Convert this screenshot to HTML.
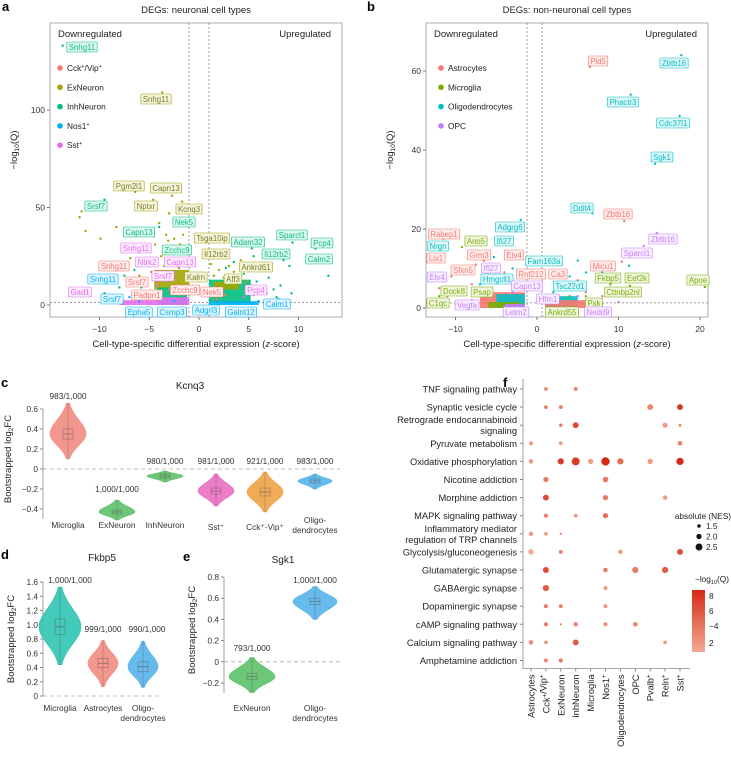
<!DOCTYPE html>
<html><head><meta charset="utf-8"><style>
body{margin:0;background:#fff;}
svg{display:block;font-family:"Liberation Sans",sans-serif;}
</style></head><body>
<svg id="fig" width="731" height="770" viewBox="0 0 731 770" xmlns="http://www.w3.org/2000/svg">
<g id="ga"></g>
<g id="gb"></g>
<g id="gc"></g>
<g id="gd"></g>
<g id="ge"></g>
<g id="gf"></g>
</svg>
<script>
const NS="http://www.w3.org/2000/svg";
function mk(p,tag,at,txt){const e=document.createElementNS(NS,tag);for(const k in at)e.setAttribute(k,at[k]);if(txt!==undefined)e.textContent=txt;p.appendChild(e);return e;}

// ---------- Panel A data ----------
const aTypes=["Cck","Ex","Inh","Nos1","Sst"];
const aColors={Cck:"#f8766d",Ex:"#a3a500",Inh:"#00bf7d",Nos1:"#00b0f6",Sst:"#e76bf3"};
const aPtsEx="-12,45;-11.8,48;-11.4,38;-9.9,34;-8.3,40;-6.4,58;-4.6,54;-3.7,109;-2.7,56;-1.7,53;-3,47;-2.2,49;-4,42;-3.3,36;-3.1,33;-2.5,34;-1.9,31;-2.3,27;-4.4,31;-5.5,28;-6.9,24;-7.8,21;-8.8,18;-5,22;-3.8,25;-2.9,28;-1.6,36;-1.4,22;-2,19;-3.5,20;-4.8,17;-6,15;1.5,15;2,18;2.5,14;3,20;3.5,17;4.2,23;4.8,12;3.8,10;2.2,11;1.2,21;1.8,25";
const aPtsInh="-13.7,133;-9.5,54;-5,50;-4,40;5.3,29;5.5,25;8.5,23;9.1,20;9.4,32;11.7,29;13,15;9.3,6;7.8,4;6.5,18;7,14;5.8,12;6.2,9;4.5,16;3.5,22;2.7,19;7.5,8;8.2,10;6.8,6;-6.5,18;-7.5,15;-5.8,9;-9.5,6;-8,9";
const aPtsSst="-3.5,14;-2.8,16;-4.2,10;-6,12;-5,7;4.5,4;5.5,5";
const aPtsCck="-3,8;-4,12;-6.8,10;1.8,3;2.6,5;-5.5,4";
const aPtsNos1="-8.5,3;-7,4;-6,2;4,1;6,2;8,3;-2.5,2";
const aDense=[["Ex",-4.5,-1,8,18],["Inh",-4.2,-1.2,0,9],["Sst",-4.5,-1,0,4],["Inh",1,5.2,1,13],["Ex",1.5,4,8,12],["Nos1",1,6,0,2],["Sst",-8,-4.5,0,2.5]];
const aLabels=[["Snhg11","Inh",82,47],["Snhg11","Ex",156,99],["Pgm2l1","Ex",129,186],["Capn13","Ex",166,188],["Nptxr","Ex",146,206],["Kcnq3","Ex",189,209],["Srsf7","Inh",96,206],["Nek5","Inh",184,222],["Capn13","Inh",139,232],["Tsga10ip","Ex",212,238],["Adam32","Inh",248,242],["Sparcl1","Inh",292,235],["Pcp4","Inh",322,243],["Snhg11","Sst",136,248],["Zcchc9","Inh",177,250],["Il12rb2","Ex",216,254],["Il12rb2","Inh",276,254],["Calm2","Inh",319,259],["Ankrd61","Ex",256,267],["Snhg11","Cck",114,266],["Ntrk2","Sst",147,262],["Capn13","Sst",180,262],["Srsf7","Sst",163,276],["Kalrn","Ex",196,277],["Aff3","Ex",233,279],["Snhg11","Nos1",103,279],["Srsf7","Cck",137,282],["Pcp4","Sst",256,290],["Gad1","Sst",80,292],["Zcchc9","Cck",185,290],["Padpn1","Cck",147,295],["Nek5","Cck",212,292],["Srsf7","Nos1",112,299],["Calm1","Nos1",277,304],["Epha5","Nos1",139,312],["Csrnp3","Nos1",172,312],["Adgrl3","Nos1",206,310],["Galnt12","Nos1",241,312]];

// ---------- Panel B data ----------
const bColors={Ast:"#f8766d",Mic:"#7cae00",Oli:"#00bfc4",OPC:"#c77cff"};
const bPtsAst="6.5,61;10.7,22;10.4,11.7;-11.5,17.5;-6.5,12;-7.5,11;-9,9;-10.5,8;-8,6;-5,7;-3,6;-4,9;-12,5;-11,3;-9.5,4;5,7;6,4;4,6;8,3;-6,4";
const bPtsMic="20.6,5.3;11.4,5.6;-9.2,15.4;-12,3;-13,2;-10,1;8,1;7,2;6,3;9,6;4,3";
const bPtsOli="17.7,64;11.5,54;17.5,48.6;14.5,36.5;6.8,24;-2,22.3;-5.3,12.9;11.3,10.7;7,11;6,9;5,12;4,8;8,9;3,6;2,4;-3,10;-4,8;-2,6;-6,9;-7,6";
const bPtsOPC="14.7,19;13.1,15.7;-6,11;-3,4;5,3;7,2;10,1.5;-8,2";
const bDense=[["Ast",-7,-1.5,0,4],["Oli",-5,-1.5,0,3.5],["Mic",-6,-2,0,1.5],["Oli",1,5,0,3],["Ast",1,6,0,2],["OPC",-4,-1.5,0,1]];
const bLabels=[["Pld5","Ast",598,61],["Zbtb16","Oli",674,63],["Phactr3","Oli",623,102],["Cdc37l1","Oli",673,123],["Sgk1","Oli",662,157],["Ddit4","Oli",582,208],["Zbtb16","Ast",618,214],["Adgrg6","Oli",510,227],["Rabep1","Ast",444,234],["Ano5","Mic",476,241],["Ifi27","Oli",504,241],["Nrgn","Oli",438,246],["Zbtb16","OPC",663,239],["Sparcl1","OPC",637,253],["Grm3","Ast",479,255],["Etv4","Ast",514,255],["Lix1","Ast",436,258],["Fam163a","Oli",544,261],["Micu1","Ast",603,266],["Sfxn5","Ast",463,270],["Ifi27","OPC",491,268],["Etv4","OPC",437,277],["Hmgcll1","Oli",497,279],["Rnf212","Ast",531,274],["Ca3","Ast",558,274],["Fkbp5","Mic",608,278],["Eef2k","Mic",637,278],["Apoe","Mic",698,280],["Capn13","OPC",527,286],["Tsc22d1","Oli",570,286],["Dock8","Mic",454,291],["Psap","Mic",482,292],["Cttnbp2nl","Mic",623,292],["Hfm1","OPC",548,299],["C1qc","Mic",438,303],["Vegfa","OPC",467,305],["Pxk","Mic",594,303],["Letm2","OPC",516,312],["Ankrd55","Mic",562,312],["Nedd9","OPC",598,312]];

// ---------- Violin data ----------
const cCats=["Microglia","ExNeuron","InhNeuron","Sst⁺","Cck⁺-Vip⁺","Oligo-|dendrocytes"];
const cMed=[0.35,-0.43,-0.07,-0.22,-0.23,-0.12];
const cQ1=[0.30,-0.45,-0.09,-0.25,-0.27,-0.14];
const cQ3=[0.40,-0.41,-0.05,-0.19,-0.19,-0.10];
const cMin=[0.10,-0.51,-0.13,-0.37,-0.43,-0.20];
const cMax=[0.66,-0.31,-0.02,-0.05,-0.03,-0.05];
const cCount=["983/1,000","1,000/1,000","980/1,000","981/1,000","921/1,000","983/1,000"];
const cCol=["#f28b82","#5cc16a","#5cc16a","#ea6fc0","#efa245","#55b2ea"];
const dCats=["Microglia","Astrocytes","Oligo-|dendrocytes"];
const dMed=[0.97,0.46,0.41];const dQ1=[0.86,0.40,0.34];const dQ3=[1.08,0.53,0.48];
const dMin=[0.44,0.13,0.12];const dMax=[1.53,0.78,0.77];
const dCount=["1,000/1,000","999/1,000","990/1,000"];
const dCol=["#2fc4b2","#f28b82","#55b2ea"];
const eCats=["ExNeuron","Oligo-|dendrocytes"];
const eMed=[-0.14,0.57];const eQ1=[-0.17,0.54];const eQ3=[-0.11,0.60];
const eMin=[-0.29,0.40];const eMax=[0.04,0.71];
const eCount=["793/1,000","1,000/1,000"];
const eCol=["#5cc16a","#55b2ea"];

// ---------- Panel F data ----------
const fPaths=["TNF signaling pathway","Synaptic vesicle cycle","Retrograde endocannabinoid|signaling","Pyruvate metabolism","Oxidative phosphorylation","Nicotine addiction","Morphine addiction","MAPK signaling pathway","Inflammatory mediator|regulation of TRP channels","Glycolysis/gluconeogenesis","Glutamatergic synapse","GABAergic synapse","Dopaminergic synapse","cAMP signaling pathway","Calcium signaling pathway","Amphetamine addiction"];
const fCells=["Astrocytes","Cck⁺/Vip⁺","ExNeuron","InhNeuron","Microglia","Nos1⁺","Oligodendrocytes","OPC","Pvalb⁺","Reln⁺","Sst⁺"];
const fRow=[0,0,1,1,1,1,2,2,2,2,3,3,3,4,4,4,4,4,4,4,4,5,5,6,6,6,7,7,7,8,8,8,9,9,9,9,10,10,10,10,11,11,12,12,12,13,13,13,13,13,14,14,14,14,15,15];
const fCol=[1,3,1,2,8,10,2,3,9,10,0,2,10,0,2,3,4,5,6,8,10,1,5,1,5,9,1,3,5,0,1,2,0,2,6,10,1,5,7,9,1,5,1,2,5,1,2,3,5,7,0,1,3,9,1,2];
const fNES=[1.6,1.7,1.6,1.6,2.2,2.2,1.5,2.2,2.0,1.4,1.7,1.6,1.9,1.8,2.3,2.8,2.0,2.9,2.3,2.0,2.6,2.0,2.1,2.2,2.0,1.8,1.7,1.6,2.0,1.8,1.6,1.2,2.1,1.7,1.8,2.2,2.2,1.8,2.3,2.3,2.3,1.7,1.7,1.6,1.7,1.7,1.1,1.8,1.7,1.9,1.8,1.5,2.2,1.6,1.7,1.7];
const fQ=[3,3,4,4,3,8,4,7,2,3,2,2,3,2,8,8,2,9,5,2,9,4,4,7,4,2,4,2,5,2,2,3,1,3,2,7,7,4,4,6,6,2,4,4,2,4,4,3,3,3,3,3,6,2,3,4];

function panelLetter(g,t,x,y){const e=mk(g,"text",{x:x,y:y,"font-size":13,"font-weight":"bold"},t);}
function parsePts(s){return s.split(";").map(p=>p.split(",").map(Number));}

function volcano(g,cfg){
 const {x0,x1,y0,y1,zx,zy,zscale,qscale,colors,pts,dense,labels,legend,title,xticks,yticks,dl,dr,legX}=cfg;
 const X=z=>zx+z*zscale, Y=q=>zy-q*qscale;
 const t=mk(g,"text",{x:(x0+x1)/2,y:13,"font-size":9.5,"text-anchor":"middle",fill:"#222"},title);
 
 const fr=mk(g,"rect",{x:x0,y:y0,width:x1-x0,height:y1-y0,fill:"none",stroke:"#999","stroke-width":0.8});
 
 [dl,dr].forEach(v=>{const l=mk(g,"line",{x1:v,x2:v,y1:y0,y2:y1,stroke:"#777","stroke-dasharray":"2,2","stroke-width":0.7});});
 const h=mk(g,"line",{x1:x0,x2:x1,y1:Y(1.3),y2:Y(1.3),stroke:"#777","stroke-dasharray":"2,2","stroke-width":0.7});
 const dn=mk(g,"text",{x:x0+8,y:37,"font-size":9.5,fill:"#222"},"Downregulated");
 const up=mk(g,"text",{x:x1-11,y:37,"font-size":9.5,fill:"#222","text-anchor":"end"},"Upregulated");
 xticks.forEach(v=>{const l=mk(g,"line",{x1:X(v),x2:X(v),y1:y1,y2:y1+3,stroke:"#777"});
  const tt=mk(g,"text",{x:X(v),y:y1+15,"font-size":8.5,"text-anchor":"middle",fill:"#333"},v<0?"−"+(-v):String(v));});
 yticks.forEach(v=>{const l=mk(g,"line",{x1:x0-3,x2:x0,y1:Y(v),y2:Y(v),stroke:"#777"});
  const tt=mk(g,"text",{x:x0-5,y:Y(v)+3,"font-size":8.5,"text-anchor":"end",fill:"#333"},String(v));});
 const xl=mk(g,"text",{x:(x0+x1)/2,y:y1+30,"font-size":9.5,"text-anchor":"middle",fill:"#222"});
 xl.innerHTML='Cell-type-specific differential expression (<tspan font-style="italic">z</tspan>-score)';
 
 const yl=mk(g,"text",{transform:`translate(${x0-33},${(y0+y1)/2-20}) rotate(-90)`,"font-size":9.5,"text-anchor":"middle",fill:"#222"});
 yl.innerHTML='−log<tspan font-size="6.5" dy="2">10</tspan><tspan dy="-2">(Q)</tspan>';
 
 dense.forEach(d=>{const r=mk(g,"rect",{x:X(d[1]),y:Y(d[4]),width:X(d[2])-X(d[1]),height:Y(d[3])-Y(d[4]),fill:colors[d[0]],opacity:0.9});
  });
 for(const k in pts){parsePts(pts[k]).forEach(p=>{const c=mk(g,"circle",{cx:X(p[0]),cy:Y(p[1]),r:1.2,fill:colors[k]});
  });}
 labels.forEach(L=>{const col=colors[L[1]];const gg=mk(g,"g",{});
  
  const bg=mk(gg,"rect",{fill:"#fff"});
  const r=mk(gg,"rect",{fill:col,"fill-opacity":0.12,stroke:col,"stroke-width":0.6,rx:1});
  const tt=mk(gg,"text",{x:L[2],y:L[3]+2.8,"font-size":7.8,"text-anchor":"middle",fill:col},L[0]);
  const w=tt.getComputedTextLength()||L[0].length*4.3;
  [bg,r].forEach(b=>{b.setAttribute("x",L[2]-w/2-2);b.setAttribute("y",L[3]-5);b.setAttribute("width",w+4);b.setAttribute("height",10);});
  if(L[1]==="Ex"){tt.setAttribute("fill","#7d7d1c");}});
 legend.forEach((L,i)=>{const y=68+i*19.3;const c=mk(g,"circle",{cx:legX,cy:y,r:2.8,fill:colors[L[0]]});
  const tt=mk(g,"text",{x:legX+7,y:y+3,"font-size":8.3,fill:"#222"});tt.innerHTML=L[1];});
}

const ga=document.getElementById("ga");panelLetter(ga,"a",2,11);
volcano(ga,{x0:50,x1:342,y0:23,y1:317,zx:199,zy:305,zscale:9.95,qscale:1.95,colors:aColors,
 pts:{Ex:aPtsEx,Inh:aPtsInh,Sst:aPtsSst,Cck:aPtsCck,Nos1:aPtsNos1},dense:aDense,labels:aLabels,
 legend:[["Cck",'Cck<tspan font-size="5.5" dy="-3">+</tspan><tspan dy="3">/Vip</tspan><tspan font-size="5.5" dy="-3">+</tspan>'],["Ex","ExNeuron"],["Inh","InhNeuron"],["Nos1",'Nos1<tspan font-size="5.5" dy="-3">+</tspan>'],["Sst",'Sst<tspan font-size="5.5" dy="-3">+</tspan>']],
 title:"DEGs: neuronal cell types",xticks:[-10,-5,0,5,10],yticks:[0,50,100],dl:189,dr:209,legX:60});
const gb=document.getElementById("gb");panelLetter(gb,"b",367,11);
volcano(gb,{x0:426,x1:708,y0:23,y1:317,zx:537,zy:308,zscale:8.15,qscale:3.95,colors:bColors,
 pts:{Ast:bPtsAst,Mic:bPtsMic,Oli:bPtsOli,OPC:bPtsOPC},dense:bDense,labels:bLabels,
 legend:[["Ast","Astrocytes"],["Mic","Microglia"],["Oli","Oligodendrocytes"],["OPC","OPC"]],
 title:"DEGs: non-neuronal cell types",xticks:[-10,0,10,20],yticks:[0,20,40,60],dl:527,dr:542,legX:441});

function violins(g,cfg){
 const {ax,yTop,yBot,vTop,vBot,zeroEnd,xs,cats,med,q1,q3,mn,mx,cnt,cols,hw,ticks,title,tx,countY,catY,ytitleX,dashLeft}=cfg;
 const Y=v=>yBot-(v-vBot)/(vTop-vBot)*(yBot-yTop);
 const tt=mk(g,"text",{x:tx,y:cfg.titleY,"font-size":10,"text-anchor":"middle",fill:"#222"},title);
 const al=mk(g,"line",{x1:ax,x2:ax,y1:Y(ticks[ticks.length-1]),y2:Y(ticks[0])+cfg.axExt,stroke:"#888","stroke-width":0.8});
 const z=mk(g,"line",{x1:dashLeft,x2:zeroEnd,y1:Y(0),y2:Y(0),stroke:"#aaa","stroke-dasharray":"4,3","stroke-width":0.8});
 ticks.forEach(v=>{const l=mk(g,"line",{x1:ax-3,x2:ax,y1:Y(v),y2:Y(v),stroke:"#888"});
  const s=mk(g,"text",{x:ax-5,y:Y(v)+3,"font-size":8.3,"text-anchor":"end",fill:"#333"},v===0?"0":(v<0?"−":"")+Math.abs(v).toFixed(1));});
 const yl=mk(g,"text",{transform:`translate(${ytitleX},${(Y(ticks[0])+Y(ticks[ticks.length-1]))/2}) rotate(-90)`,"font-size":9.5,"text-anchor":"middle",fill:"#222"});
 yl.innerHTML='Bootstrapped log<tspan font-size="6.5" dy="2">2</tspan><tspan dy="-2">FC</tspan>';
 cats.forEach((c,i)=>{const x=xs[i];const n=40;let L=[],R=[];
  const sUp=(mx[i]-med[i])/2.2,sDn=(med[i]-mn[i])/2.2;
  for(let k=0;k<=n;k++){const v=mn[i]+(mx[i]-mn[i])*k/n;const s=v>med[i]?sUp:sDn;const w=hw[i]*Math.exp(-0.5*Math.pow((v-med[i])/s,2));
   L.push([x-w,Y(v)]);R.push([x+w,Y(v)]);}
  const d="M"+L.map(p=>p.join(",")).join("L")+"L"+R.reverse().map(p=>p.join(",")).join("L")+"Z";
  const vp=mk(g,"path",{d:d,fill:cols[i],stroke:cols[i],"stroke-width":0.6,"fill-opacity":0.9});
  const wl=mk(g,"line",{x1:x,x2:x,y1:Y(mx[i]),y2:Y(mn[i]),stroke:"#555","stroke-width":0.5,"stroke-opacity":0.6});
  const bw=Math.min(5,hw[i]*0.35);
  const b=mk(g,"rect",{x:x-bw,y:Y(q3[i]),width:2*bw,height:Y(q1[i])-Y(q3[i]),fill:"none",stroke:"#555","stroke-width":0.5,"stroke-opacity":0.7});
  const m=mk(g,"line",{x1:x-bw,x2:x+bw,y1:Y(med[i]),y2:Y(med[i]),stroke:"#555","stroke-width":0.5});
  const ct=mk(g,"text",{x:x+(cfg.cntDx?cfg.cntDx[i]:0),y:countY[i],"font-size":8.3,"text-anchor":"middle",fill:"#333"},cnt[i]);
  const parts=c.split("|");parts.forEach((p,j)=>{const lt=mk(g,"text",{x:x,y:catY[i]+j*10,"font-size":8.3,"text-anchor":"middle",fill:"#333"},p);});
 });
}
const gc=document.getElementById("gc");panelLetter(gc,"c",1,387);
violins(gc,{ax:43,yTop:409,yBot:509,vTop:0.6,vBot:-0.4,zeroEnd:340,dashLeft:43,axExt:10,xs:[68,117,165,216,265,315],cats:cCats,med:cMed,q1:cQ1,q3:cQ3,mn:cMin,mx:cMax,cnt:cCount,cols:cCol,hw:[18,18,18,18,18,17],ticks:[-0.4,-0.2,0,0.2,0.4,0.6],title:"Kcnq3",tx:190,titleY:389,countY:[399,492,464,464,464,464],catY:[528,528,528,530,530,523],ytitleX:11});
const gd=document.getElementById("gd");panelLetter(gd,"d",1,559);
violins(gd,{ax:43,yTop:582,yBot:696,vTop:1.6,vBot:0,zeroEnd:160,dashLeft:43,axExt:0,xs:[60,103,143],cats:dCats,med:dMed,q1:dQ1,q3:dQ3,mn:dMin,mx:dMax,cnt:dCount,cols:dCol,hw:[21,15,15],ticks:[0,0.2,0.4,0.6,0.8,1.0,1.2,1.4,1.6],title:"Fkbp5",tx:102,titleY:561,countY:[583,632,632],catY:[711,711,711],cntDx:[10,0,4],ytitleX:14});
const ge=document.getElementById("ge");panelLetter(ge,"e",183,561);
violins(ge,{ax:224,yTop:577,yBot:683,vTop:0.8,vBot:-0.2,zeroEnd:343,dashLeft:224,axExt:10,xs:[252,315],cats:eCats,med:eMed,q1:eQ1,q3:eQ3,mn:eMin,mx:eMax,cnt:eCount,cols:eCol,hw:[23,22],ticks:[-0.2,0,0.2,0.4,0.6,0.8],title:"Sgk1",tx:283,titleY:563,countY:[651,583],catY:[711,711],ytitleX:195});

const gf=document.getElementById("gf");panelLetter(gf,"f",503,387);
const fx0=531,fdx=14.9,fy0=389,fdy=18.1;
const FX=i=>fx0+i*fdx, FY=i=>fy0+i*fdy;
function qcol(q){const t=Math.max(0,Math.min(1,(q-1)/8));const a=[243,170,148],b=[213,43,20];
 return `rgb(${a.map((v,k)=>Math.round(v+(b[k]-v)*t)).join(",")})`;}
const NR=n=>Math.max(0.8,1.75*n-0.9);
const fa=mk(gf,"path",{d:`M523,${FY(0)-10}V${FY(15)+8}H${FX(10)+10}`,fill:"none",stroke:"#888","stroke-width":0.8});
fPaths.forEach((p,i)=>{const parts=p.split("|");
 const tk=mk(gf,"line",{x1:520,x2:523,y1:FY(i),y2:FY(i),stroke:"#888"});
 parts.forEach((s,j)=>{const t=mk(gf,"text",{x:517,y:FY(i)+3.5+(parts.length>1?(j-0.5)*11:0),"font-size":9.3,"text-anchor":"end",fill:"#222"},s);
 });});
fCells.forEach((c,i)=>{const tk=mk(gf,"line",{x1:FX(i),x2:FX(i),y1:FY(15)+8,y2:FY(15)+11,stroke:"#888"});
 const t=mk(gf,"text",{transform:`translate(${FX(i)+3.5},${FY(15)+14}) rotate(-90)`,"font-size":9.3,"text-anchor":"end",fill:"#222"});
 t.innerHTML=c.replace(/⁺/g,'<tspan font-size="6" dy="-3">+</tspan><tspan dy="3"></tspan>');
 });
fRow.forEach((r,k)=>{const c=mk(gf,"circle",{cx:FX(fCol[k]),cy:FY(r),r:NR(fNES[k]),fill:qcol(fQ[k])});
 });
const lt=mk(gf,"text",{x:731,y:519,"font-size":8.3,"text-anchor":"end",fill:"#222"},"absolute (NES)");
[1.5,2.0,2.5].forEach((v,i)=>{const y=526+i*10.5;const c=mk(gf,"circle",{cx:699,cy:y,r:NR(v),fill:"#111"});
 const t=mk(gf,"text",{x:706,y:y+3,"font-size":8.3,fill:"#222"},v.toFixed(1));});
const defs=mk(gf,"defs",{});const lg=mk(defs,"linearGradient",{id:"cb",x1:0,y1:1,x2:0,y2:0});
mk(lg,"stop",{offset:0,"stop-color":qcol(1)});mk(lg,"stop",{offset:1,"stop-color":qcol(9)});
const ct=mk(gf,"text",{x:712,y:582,"font-size":8.3,"text-anchor":"middle",fill:"#222"});ct.innerHTML='−log<tspan font-size="5.5" dy="2">10</tspan><tspan dy="-2">(Q)</tspan>';
const cb=mk(gf,"rect",{x:692,y:590,width:13,height:62,fill:"url(#cb)"});
[["8",596],["6",611],["−4",626],["2",643]].forEach(a=>{const t=mk(gf,"text",{x:709,y:a[1]+3,"font-size":8.3,fill:"#222"},a[0]);});
</script>
</body></html>
